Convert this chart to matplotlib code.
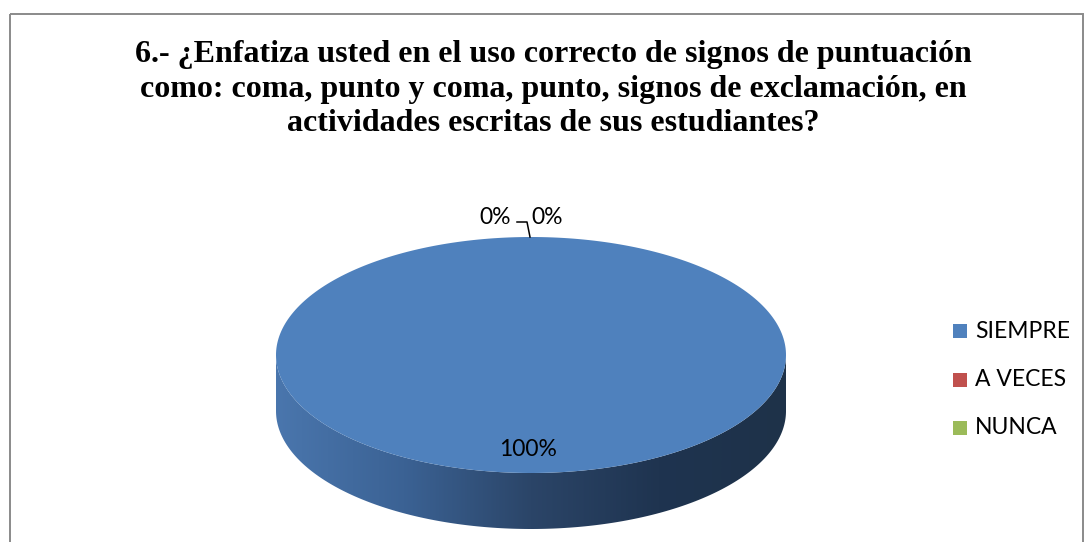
import matplotlib
matplotlib.use("Agg")
import matplotlib.pyplot as plt
import numpy as np
from matplotlib.patches import Polygon, Rectangle
from matplotlib.colors import LinearSegmentedColormap

TITLE = ("6.- ¿Enfatiza usted en el uso correcto de signos de puntuación\n"
         "como: coma, punto y coma, punto, signos de exclamación, en\n"
         "actividades escritas de sus estudiantes?")
categories = ["SIEMPRE", "A VECES", "NUNCA"]
values = [100, 0, 0]
colors = ["#4F81BD", "#C0504D", "#9BBB59"]

# pie geometry in pixel units
CX, CY = 531, 355
RX, RY = 255, 118
DEPTH = 56

fig = plt.figure(figsize=(10.84, 5.42), dpi=100)
ax = fig.add_axes([0, 0, 1, 1])
ax.set_xlim(0, 1084)
ax.set_ylim(542, 0)
ax.axis("off")

# chart border
ax.add_patch(Rectangle((9.5, 13.5), 1073, 560, fill=False,
                       edgecolor="#8a8a8a", linewidth=1.4))

ax.text(553, 89, TITLE, ha="center", va="center", fontsize=23,
        fontweight="bold", family="Liberation Serif", linespacing=1.24)


def ell(theta):
    # theta in degrees, 0 = right, counterclockwise (screen y goes down)
    t = np.radians(theta)
    return CX + RX * np.cos(t), CY - RY * np.sin(t)


# side wall (front half), shaded with a horizontal gradient
t = np.linspace(180, 360, 200)
x_top, y_top = ell(t)
side = np.vstack([np.column_stack([x_top, y_top]),
                  np.column_stack([x_top[::-1], y_top[::-1] + DEPTH])])
side_patch = Polygon(side, closed=True, facecolor="none", edgecolor="none")
ax.add_patch(side_patch)
shade = LinearSegmentedColormap.from_list(
    "side", ["#4a76ad", "#3b6294", "#2b4568", "#1f3450", "#1e3249"])
grad = np.linspace(0, 1, 256).reshape(1, -1)
im = ax.imshow(grad, cmap=shade, aspect="auto",
               extent=[CX - RX, CX + RX, CY + RY + DEPTH, CY - 5],
               interpolation="bilinear", zorder=1)
im.set_clip_path(side_patch)

# top face, slices start at 12 o'clock and go clockwise
total = sum(values)
start = 90.0
mids = []
for v, c in zip(values, colors):
    sweep = 360.0 * v / total
    if sweep > 0:
        tt = np.linspace(start, start - sweep, 300)
        xs, ys = ell(tt)
        pts = np.column_stack([xs, ys])
        if sweep < 360:
            pts = np.vstack([[CX, CY], pts])
        ax.add_patch(Polygon(pts, closed=True, facecolor=c,
                             edgecolor="none", zorder=2))
    mids.append(start - sweep / 2)
    start -= sweep

# data labels
lab_font = dict(family="Lato", fontsize=16.5, color="black")
for i, (v, m) in enumerate(zip(values, mids)):
    txt = f"{v / total:.0%}"
    if v > 0:
        ax.text(CX - 3, CY + 94, txt, ha="center", va="center", zorder=3,
                **lab_font)
    else:
        px, py = ell(m)
        dx = -36 if i == 1 else 16
        ax.text(px + dx, py - 20, txt, ha="center", va="center", zorder=3,
                **lab_font)
# leader line for the small slice labels
px, py = ell(90)
ax.plot([px - 14, px - 4, px - 1], [py - 15, py - 15, py],
        color="black", linewidth=1.1, zorder=3)

# legend
for i, (name, c) in enumerate(zip(categories, colors)):
    ly = 331 + i * 48.5
    ax.add_patch(Rectangle((953, ly - 7), 14, 14, facecolor=c,
                           edgecolor="none"))
    ax.text(975, ly, name, ha="left", va="center", **lab_font)

fig.savefig("out.png", dpi=100)
